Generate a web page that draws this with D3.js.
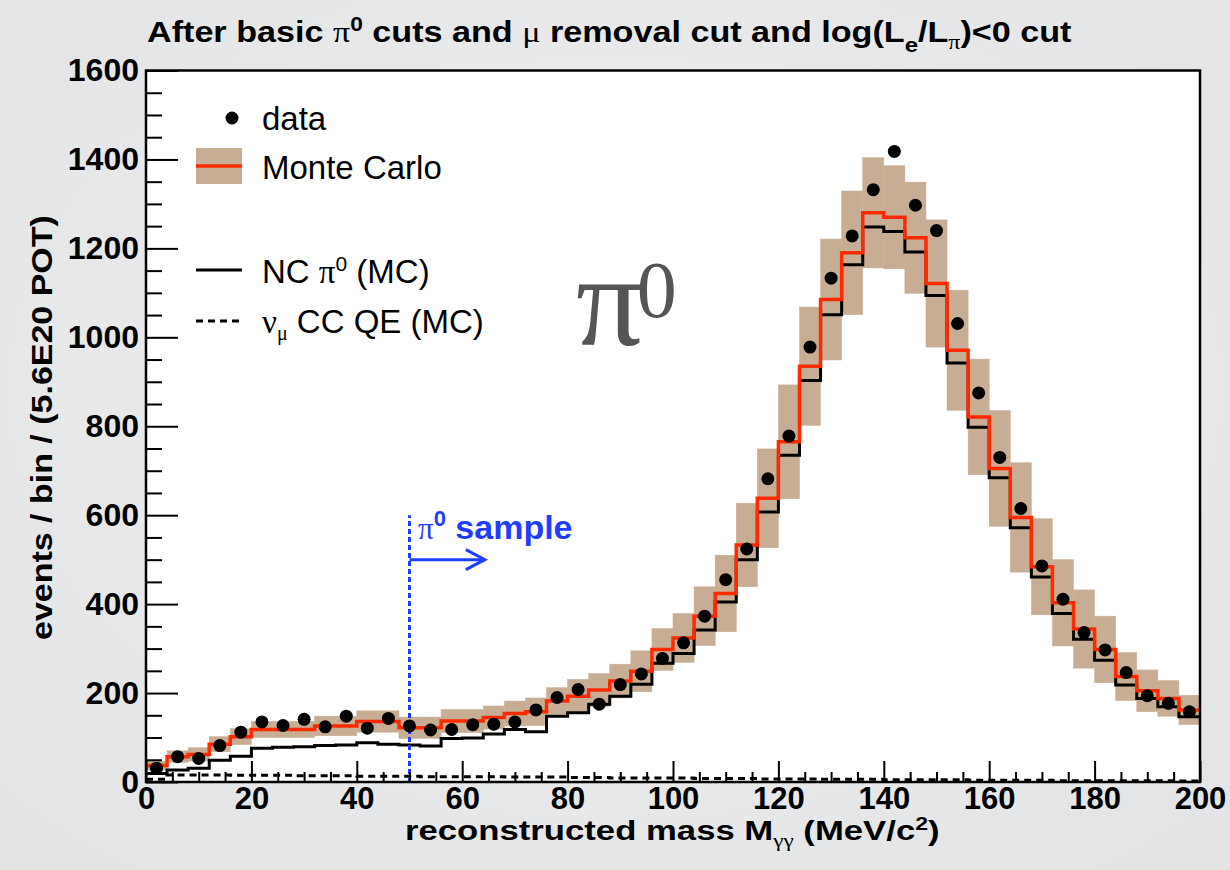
<!DOCTYPE html>
<html><head><meta charset="utf-8">
<script src="https://cdn.jsdelivr.net/npm/d3@7"></script>
<style>
html,body{margin:0;padding:0;background:#e8e8e9;}
svg{display:block;}
</style></head><body>
<svg id="c" width="1230" height="870"></svg>
<script>
// ---------------- data ----------------
const binEdgesLow = [0,4,8,12,16,20,24,28,32,36,40,44,48,52,56,60,64,68,72,76,80,84,88,92,96,100,104,108,112,116,120,124,128,132,136,140,144,148,152,156,160,164,168,172,176,180,184,188,192,196];
const binWidth = 4;
const dataCounts = [31,57,53,82,112,135,127,141,124,148,121,143,126,117,118,129,130,135,162,190,208,175,219,243,278,313,373,455,524,682,778,978,1133,1228,1332,1418,1297,1240,1031,875,730,615,486,411,336,297,246,194,177,158];
const mcTotal = [37,57,62,85,102,118,118,118,126,126,136,136,122,122,137,137,145,154,158,182,193,207,227,249,298,324,373,424,533,638,765,935,1085,1190,1280,1270,1224,1121,971,821,705,595,484,403,344,298,237,205,188,162];
const mcError = [10,13,15,17,18,18,18,18,22,22,24,24,24,24,26,26,26,28,31,30,38,37,38,46,47,55,66,86,94,111,128,133,136,139,124,116,125,143,135,130,130,123,108,97,88,75,54,47,40,33];
const ncPi0 = [19,27,31,49,58,76,78,79,82,83,88,85,83,81,98,99,108,118,113,148,156,175,193,220,267,289,342,405,500,607,735,903,1051,1163,1248,1238,1192,1094,942,798,684,572,461,379,321,274,218,188,169,147];
const numuCCQE = [6,16,16,16,15,15,15,14,14,14,13,13,13,12,12,12,12,11,11,11,10,10,9,9,9,9,8,8,8,7,7,7,6,6,6,5,5,5,5,4,4,4,4,3,3,3,3,3,3,2];
const xTicks = [0,20,40,60,80,100,120,140,160,180,200];
const yTicks = [0,200,400,600,800,1000,1200,1400,1600];
const sampleCut = 50;
const sampleArrowEnd = 64.3;
const sampleArrowY = 500;
const sampleLineTop = 600;

// ---------------- layout ----------------
const svg = d3.select("#c");
const L = 146, R = 1200, T = 70.5, B = 782;
const x = d3.scaleLinear().domain([0,200]).range([L,R]);
const y = d3.scaleLinear().domain([0,1600]).range([B,T]);
const SANS = "'Liberation Sans', Arial, Helvetica, sans-serif";
const SERIF = "'Liberation Serif', 'Times New Roman', serif";
const C_TAN = "#c8ad95", C_RED = "#ff2a00", C_BLUE = "#1f3dff";

// background
const defs = svg.append("defs");
const rg = defs.append("radialGradient").attr("id","bg").attr("cx","50%").attr("cy","45%").attr("r","75%");
rg.append("stop").attr("offset","0%").attr("stop-color","#f0f0f1");
rg.append("stop").attr("offset","100%").attr("stop-color","#e2e3e4");
svg.append("rect").attr("width",1230).attr("height",870).attr("fill","url(#bg)");
svg.append("rect").attr("x",L).attr("y",T).attr("width",R-L).attr("height",B-T).attr("fill","#fff");

const bins = binEdgesLow.map((lo,i)=>({lo, hi:lo+binWidth, c:lo+binWidth/2, data:dataCounts[i], mc:mcTotal[i], err:mcError[i], nc:ncPi0[i], qe:numuCCQE[i]}));

const plot = svg.append("g");
// error band
plot.selectAll("rect.band").data(bins).join("rect").attr("class","band")
  .attr("x",d=>x(d.lo)).attr("width",d=>x(d.hi)-x(d.lo))
  .attr("y",d=>y(d.mc+d.err)).attr("height",d=>y(d.mc-d.err)-y(d.mc+d.err))
  .attr("fill",C_TAN).attr("stroke",C_TAN).attr("stroke-width",0.5);

function stepPts(key){
  const pts = bins.map(d=>[d.lo,d[key]]);
  pts.push([200,bins[bins.length-1][key]]);
  return pts;
}
const stepLine = d3.line().x(d=>x(d[0])).y(d=>y(d[1])).curve(d3.curveStepAfter);

plot.append("path").attr("d",stepLine(stepPts("qe"))).attr("fill","none").attr("stroke","#000").attr("stroke-width",3).attr("stroke-dasharray","7,5");
plot.append("path").attr("d",stepLine(stepPts("nc"))).attr("fill","none").attr("stroke","#000").attr("stroke-width",3);
plot.append("path").attr("d",stepLine(stepPts("mc"))).attr("fill","none").attr("stroke",C_RED).attr("stroke-width",3.5);

// pi0 sample marker
plot.append("line").attr("x1",x(sampleCut)).attr("x2",x(sampleCut)).attr("y1",y(0)).attr("y2",y(sampleLineTop))
  .attr("stroke",C_BLUE).attr("stroke-width",3).attr("stroke-dasharray","5,3");
plot.append("line").attr("x1",x(sampleCut)).attr("x2",x(sampleArrowEnd)).attr("y1",y(sampleArrowY)).attr("y2",y(sampleArrowY))
  .attr("stroke",C_BLUE).attr("stroke-width",3);
plot.append("path").attr("d",`M${x(sampleArrowEnd)-19},${y(sampleArrowY)-10} L${x(sampleArrowEnd)},${y(sampleArrowY)} L${x(sampleArrowEnd)-19},${y(sampleArrowY)+10}`)
  .attr("fill","none").attr("stroke",C_BLUE).attr("stroke-width",3);
const st = plot.append("text").attr("x",418).attr("y",539).attr("fill",C_BLUE).attr("font-family",SANS).attr("font-size",34).attr("font-weight","bold");
st.append("tspan").attr("font-family",SERIF).attr("font-weight","normal").attr("font-size",31).text("π");
st.append("tspan").attr("dy",-13).attr("font-size",22).text("0");
st.append("tspan").attr("dy",13).text(" sample");

// data points
plot.selectAll("circle.dp").data(bins).join("circle").attr("class","dp")
  .attr("cx",d=>x(d.c)).attr("cy",d=>y(d.data)).attr("r",6.5).attr("fill","#000");

// axes ticks
const minorY = d3.range(0,1601,50).filter(v=>v%200!==0);
const minorX = d3.range(0,201,5).filter(v=>v%20!==0);
const gy = svg.append("g").attr("transform",`translate(${L},0)`)
  .call(d3.axisLeft(y).tickValues(yTicks).tickSizeInner(-32).tickSizeOuter(0).tickPadding(7).tickFormat(d3.format("d")));
const gym = svg.append("g").attr("transform",`translate(${L},0)`)
  .call(d3.axisLeft(y).tickValues(minorY).tickSize(-16).tickFormat(""));
const gx = svg.append("g").attr("transform",`translate(0,${B})`)
  .call(d3.axisBottom(x).tickValues(xTicks).tickSizeInner(-21).tickSizeOuter(0).tickPadding(5).tickFormat(d3.format("d")));
const gxm = svg.append("g").attr("transform",`translate(0,${B})`)
  .call(d3.axisBottom(x).tickValues(minorX).tickSize(-10).tickFormat(""));
[gy,gym,gx,gxm].forEach(g=>{
  g.select(".domain").remove();
  g.selectAll("line").attr("stroke","#000").attr("stroke-width",2);
  g.selectAll("text").attr("font-family",SANS).attr("font-weight","bold").attr("font-size",32).attr("fill","#000");
});
gx.selectAll("text").attr("font-size",31);
// frame
svg.append("rect").attr("x",L).attr("y",T).attr("width",R-L).attr("height",B-T).attr("fill","none").attr("stroke","#000").attr("stroke-width",2.5);

// helper: fit text to a horizontal extent
function fitX(sel, x0, width){
  const w = sel.node().getBBox().width;
  sel.attr("transform",`translate(${x0},0) scale(${width/w},1)`).attr("x",0);
}

// title
const title = svg.append("text").attr("y",42).attr("font-family",SANS).attr("font-weight","bold").attr("font-size",30).attr("fill","#000");
title.append("tspan").text("After basic ");
title.append("tspan").attr("font-family",SERIF).attr("font-weight","normal").text("π");
title.append("tspan").attr("dy",-11).attr("font-size",20).text("0");
title.append("tspan").attr("dy",11).text(" cuts and ");
title.append("tspan").attr("font-family",SERIF).attr("font-weight","normal").text("μ");
title.append("tspan").text(" removal cut and log(L");
title.append("tspan").attr("dy",10).attr("font-size",21).text("e");
title.append("tspan").attr("dy",-10).text("/L");
title.append("tspan").attr("dy",7).attr("font-family",SERIF).attr("font-weight","normal").attr("font-size",21).text("π");
title.append("tspan").attr("dy",-7).text(")<0 cut");
fitX(title, 147, 925);

// x axis title
const xt = svg.append("text").attr("y",840).attr("font-family",SANS).attr("font-weight","bold").attr("font-size",27).attr("fill","#000");
xt.append("tspan").text("reconstructed mass M");
xt.append("tspan").attr("dy",7).attr("font-family",SERIF).attr("font-weight","normal").attr("font-size",18).text("γγ");
xt.append("tspan").attr("dy",-7).text("  (MeV/c");
xt.append("tspan").attr("dy",-10).attr("font-size",18).text("2");
xt.append("tspan").attr("dy",10).text(")");
fitX(xt, 405, 535);

// y axis title
const ytG = svg.append("g").attr("transform","translate(52,640) rotate(-90)");
const yt = ytG.append("text").attr("y",0).attr("font-family",SANS).attr("font-weight","bold").attr("font-size",30).attr("fill","#000")
  .text("events / bin / (5.6E20 POT)");
fitX(yt, 0, 425);

// legend
const lg = svg.append("g").attr("font-family",SANS).attr("font-size",33).attr("fill","#000");
lg.append("circle").attr("cx",232).attr("cy",118).attr("r",6.5).attr("fill","#000");
lg.append("text").attr("x",262).attr("y",130).text("data");
lg.append("rect").attr("x",196).attr("y",148).attr("width",46).attr("height",36).attr("fill",C_TAN);
lg.append("line").attr("x1",196).attr("x2",242).attr("y1",166).attr("y2",166).attr("stroke",C_RED).attr("stroke-width",3.5);
lg.append("text").attr("x",262).attr("y",179).text("Monte Carlo");
lg.append("line").attr("x1",196).attr("x2",242).attr("y1",270).attr("y2",270).attr("stroke","#000").attr("stroke-width",3);
const t3 = lg.append("text").attr("x",262).attr("y",283);
t3.append("tspan").text("NC ");
t3.append("tspan").attr("font-family",SERIF).text("π");
t3.append("tspan").attr("dy",-12).attr("font-size",21).text("0");
t3.append("tspan").attr("dy",12).text(" (MC)");
lg.append("line").attr("x1",196).attr("x2",242).attr("y1",321).attr("y2",321).attr("stroke","#000").attr("stroke-width",3).attr("stroke-dasharray","7,5");
const t4 = lg.append("text").attr("x",262).attr("y",333);
t4.append("tspan").attr("font-family",SERIF).text("ν");
t4.append("tspan").attr("dy",7).attr("font-family",SERIF).attr("font-size",20).text("μ");
t4.append("tspan").attr("dy",-7).text(" CC QE (MC)");

// big pi0 label
const pl = svg.append("text").attr("x",576).attr("y",345).attr("font-family",SERIF).attr("fill","#555");
pl.append("tspan").attr("font-size",132).text("π");
pl.append("tspan").attr("dy",-28).attr("dx",-6).attr("font-size",80).text("0");
</script>
</body></html>
